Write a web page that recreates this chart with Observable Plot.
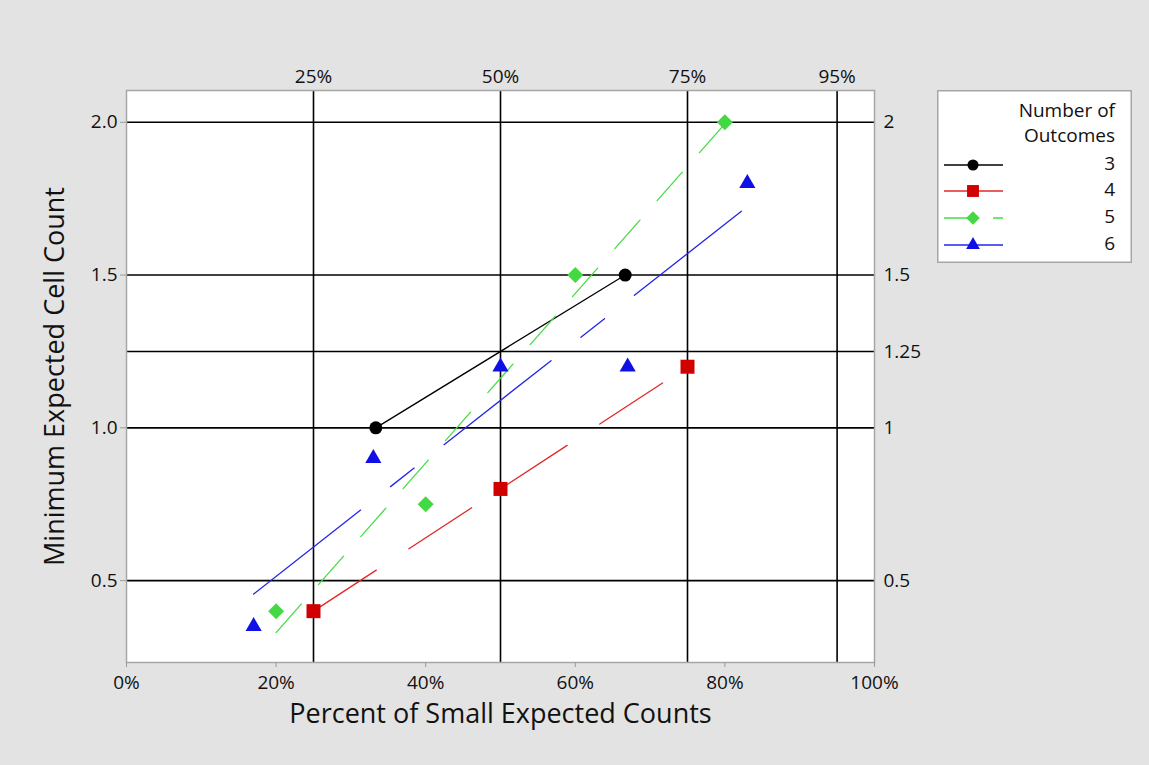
<!DOCTYPE html>
<html><head><meta charset="utf-8">
<script src="https://cdn.jsdelivr.net/npm/d3@7"></script>
<script src="https://cdn.jsdelivr.net/npm/@observablehq/plot@0.6"></script>
<style>
body{margin:0;background:#e3e3e3;}
#wrap{position:relative;width:1149px;height:765px;overflow:hidden;}
#legend{position:absolute;left:937px;top:90px;}
text{font-family:"Open Sans",sans-serif;}
</style></head><body><div id="wrap"></div>
<script>
const outcomes = ["3","4","5","6"];
const pct3 = [33.33, 66.67];            const min3 = [1.0, 1.5];
const pct4 = [25, 50, 75];              const min4 = [0.4, 0.8, 1.2];
const pct5 = [20, 40, 60, 80];          const min5 = [0.4, 0.75, 1.5, 2.0];
const pct6 = [17, 33, 50, 67, 83];      const min6 = [0.35, 0.9, 1.2, 1.2, 1.8];
const xTicks = [0, 20, 40, 60, 80, 100];
const topTicks = [25, 50, 75, 95];
const yTicks = [0.5, 1.0, 1.5, 2.0];
const rightTicks = [0.5, 1, 1.25, 1.5, 2];
const xLabel = "Percent of Small Expected Counts";
const yLabel = "Minimum Expected Cell Count";
const legendTitle = ["Number of", "Outcomes"];

const markColors = ["#000000", "#d10000", "#44d844", "#1010e6"];
const lineColors = ["#000000", "#e02828", "#44dd44", "#2424e8"];
const symbols = ["circle", "square", "diamond2", "triangle"];
const dashes = [null, "75,39", "38,26", "136,38,30,38"];
const radii = [6.5, 7.9, 7.2, 6.0];

const xs = [pct3, pct4, pct5, pct6];
const ys = [min3, min4, min5, min6];
const series = outcomes.map((o, i) => xs[i].map((x, j) => ({outcome: o, x, y: ys[i][j]})));

const FS = 19;
const marks = [
  Plot.frame({fill: "white", stroke: "none"}),
  Plot.ruleX(topTicks, {stroke: "black", strokeWidth: 1.6}),
  Plot.ruleY(rightTicks, {stroke: "black", strokeWidth: 1.6}),
  Plot.frame({stroke: "#a6a6a6", strokeWidth: 1.5}),
];
series.forEach((rows, i) => {
  const opts = {x: "x", y: "y", ci: 0, stroke: lineColors[i], strokeWidth: 1.3};
  if (dashes[i]) opts.strokeDasharray = dashes[i];
  marks.push(Plot.linearRegressionY(rows, opts));
});
series.forEach((rows, i) => {
  marks.push(Plot.dot(rows, {x: "x", y: "y", symbol: symbols[i], r: radii[i], fill: markColors[i], stroke: "none"}));
});
marks.push(
  Plot.axisX(xTicks, {anchor: "bottom", tickSize: 5, tickPadding: 8, tickFormat: d => d + "%", stroke: "#9a9a9a", fill: "#111", fontSize: FS, label: null}),
  Plot.axisX(topTicks, {anchor: "top", tickSize: 0, tickPadding: 8, tickFormat: d => d + "%", fill: "#111", fontSize: FS, label: null}),
  Plot.axisY(yTicks, {anchor: "left", tickSize: 6, tickPadding: 3, tickFormat: d => d.toFixed(1), stroke: "#9a9a9a", fill: "#111", fontSize: FS, label: null}),
  Plot.axisY(rightTicks, {anchor: "right", tickSize: 0, tickPadding: 9, tickFormat: d => String(d), fill: "#111", fontSize: FS, label: null}),
  Plot.text([xLabel], {frameAnchor: "bottom", textAnchor: "middle", dy: 60, fontSize: 27, fill: "#111"}),
  Plot.text([yLabel], {frameAnchor: "left", textAnchor: "middle", dx: -71, rotate: -90, fontSize: 27, fill: "#111"})
);

const chart = Plot.plot({
  width: 1149, height: 765,
  marginLeft: 126, marginRight: 275, marginTop: 90, marginBottom: 103,
  x: {domain: [0, 100]},
  y: {domain: [0.232, 2.104]},
  style: {fontSize: FS + "px", fontFamily: "'Open Sans', sans-serif", background: "#e3e3e3", color: "#111"},
  marks
});
const wrap = document.getElementById("wrap");
wrap.appendChild(chart);

// Legend
const W = 195, H = 173;
const lg = d3.select(wrap).append("div").attr("id", "legend")
  .append("svg").attr("width", W).attr("height", H)
  .style("font-family", "'Open Sans', sans-serif").style("font-size", "19px");
lg.append("rect").attr("x", 0.75).attr("y", 0.75).attr("width", W - 1.5).attr("height", H - 1.5)
  .attr("fill", "white").attr("stroke", "#a6a6a6").attr("stroke-width", 1.5);
legendTitle.forEach((t, k) => lg.append("text").attr("x", 178).attr("y", 22 + k * 25)
  .attr("text-anchor", "end").attr("dominant-baseline", "middle").attr("fill", "#111").text(t));
const ly = [75, 101, 128, 155];
const symMap = {circle: d3.symbolCircle, square: d3.symbolSquare, diamond2: d3.symbolDiamond2, triangle: d3.symbolTriangle};
outcomes.forEach((o, i) => {
  const g = lg.append("g");
  if (i === 2) {
    g.append("line").attr("x1", 7).attr("x2", 36).attr("y1", ly[i]).attr("y2", ly[i]).attr("stroke", lineColors[i]).attr("stroke-width", 1.5);
    g.append("line").attr("x1", 56).attr("x2", 66).attr("y1", ly[i]).attr("y2", ly[i]).attr("stroke", lineColors[i]).attr("stroke-width", 1.5);
  } else {
    g.append("line").attr("x1", 7).attr("x2", 66).attr("y1", ly[i]).attr("y2", ly[i]).attr("stroke", lineColors[i]).attr("stroke-width", 1.5);
  }
  g.append("path").attr("transform", `translate(36,${ly[i]})`)
    .attr("d", d3.symbol(symMap[symbols[i]], Math.PI * (radii[i] * 0.85) ** 2)())
    .attr("fill", markColors[i]);
  g.append("text").attr("x", 178).attr("y", ly[i]).attr("text-anchor", "end")
    .attr("dominant-baseline", "middle").attr("fill", "#111").text(o);
});
</script></body></html>
